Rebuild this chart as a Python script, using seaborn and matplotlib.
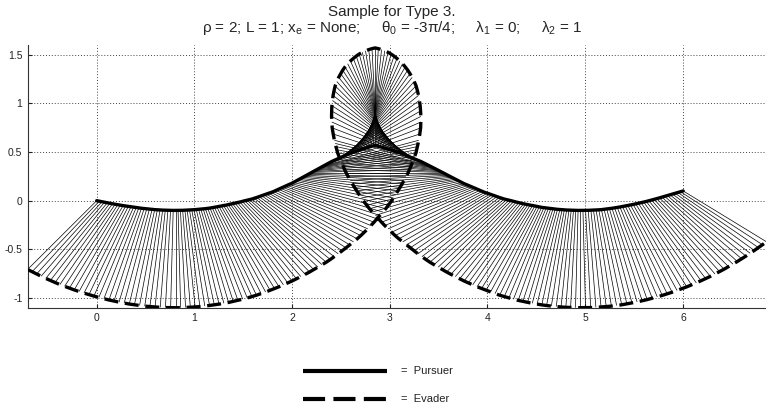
import numpy as np
import pandas as pd
import matplotlib
matplotlib.use("Agg")
import matplotlib.pyplot as plt
import seaborn as sns
from matplotlib.collections import LineCollection
from matplotlib.lines import Line2D

# Run parameters (shown in the title)
rho = 2
L = 1  # length of the pursuer-evader link

# Link angle (deg) at each stored step
link_angle_deg = [
    -135, -133.5, -132, -130.5, -129, -127.5, -126, -124.5, -123, -121.5, -120, -118.5, -117, -115.5,
    -114, -112.5, -111, -109.5, -108, -106.5, -105, -103.5, -102, -100.5, -99, -97.5, -96, -94.5,
    -93, -91.5, -90, -88.5, -87, -85.5, -84, -82.5, -81, -79.5, -78, -76.5, -75, -73.5, -72, -70.5,
    -69, -67.5, -66, -64.5, -63, -61.5, -60, -58.5, -57, -55.5, -54, -52.5, -51, -49.5, -48, -46.5,
    -45, -43.5, -42, -40.5, -39, -37.5, -36, -34.5, -33, -31.5, -30, -28.5, -27, -25.5, -24, -22.5,
    -21, -19.5, -18, -16.5, -15, -13.5, -12, -10.5, -9, -7.5, -6, -4.5, -3, -1.5, 0, 1.5, 3, 4.5,
    6, 7.5, 9, 10.5, 12, 13.5, 15,
    18, 21, 24, 27, 30, 33, 36, 39, 42, 45, 48, 51, 54, 57, 60, 63, 66, 69, 72, 75, 78, 81, 84, 87,
    90, 93, 96, 99, 102, 105, 108, 111, 114, 117, 120, 123, 126, 129, 132, 135, 138, 141, 144, 147,
    150, 153, 156, 159, 162,
    165, 166.5, 168, 169.5, 171, 172.5, 174, 175.5, 177, 178.5, 180, 181.5, 183, 184.5, 186, 187.5,
    189, 190.5, 192, 193.5, 195, 196.5, 198, 199.5, 201, 202.5, 204, 205.5, 207, 208.5, 210, 211.5,
    213, 214.5, 216, 217.5, 219, 220.5, 222, 223.5, 225, 226.5, 228, 229.5, 231, 232.5, 234, 235.5,
    237, 238.5, 240, 241.5, 243, 244.5, 246, 247.5, 249, 250.5, 252, 253.5, 255, 256.5, 258, 259.5,
    261, 262.5, 264, 265.5, 267, 268.5, 270, 271.5, 273, 274.5, 276, 277.5, 279, 280.5, 282, 283.5,
    285, 286.5, 288, 289.5, 291, 292.5, 294, 295.5, 297, 298.5, 300, 301.5, 303, 304.5, 306, 307.5,
    309, 310.5, 312, 313.5, 315, 316.5, 318, 319.5, 321, 322.5, 324, 325.5, 327, 328.5,
]

# Pursuer position at each step
pursuer_x = [
    0.000, 0.027, 0.054, 0.081, 0.108, 0.135, 0.162, 0.189, 0.216, 0.243, 0.270, 0.297, 0.324, 0.351,
    0.378, 0.405, 0.432, 0.459, 0.486, 0.513, 0.540, 0.567, 0.594, 0.621, 0.648, 0.675, 0.702, 0.729,
    0.756, 0.783, 0.810, 0.833, 0.857, 0.880, 0.903, 0.926, 0.950, 0.973, 0.996, 1.019, 1.043, 1.066, 1.089, 1.112,
    1.136, 1.159, 1.182, 1.205, 1.229, 1.252, 1.275, 1.298, 1.322, 1.345, 1.368, 1.391, 1.416, 1.440, 1.465, 1.490,
    1.515, 1.539, 1.564, 1.589, 1.614, 1.638, 1.663, 1.688, 1.713, 1.737, 1.762, 1.787, 1.812, 1.836, 1.861, 1.883,
    1.905, 1.926, 1.948, 1.970, 1.992, 2.013, 2.035, 2.054, 2.073, 2.091, 2.110, 2.129, 2.148, 2.166, 2.185, 2.201, 2.217, 2.232,
    2.248, 2.264, 2.280, 2.292, 2.305, 2.318, 2.331,
    2.356, 2.382, 2.404, 2.427, 2.449, 2.472, 2.494, 2.517, 2.539, 2.562, 2.581, 2.600, 2.619, 2.639, 2.658, 2.677, 2.696, 2.715, 2.734, 2.754, 2.773, 2.792, 2.811, 2.830,
    2.850, 2.870, 2.889, 2.908, 2.927, 2.946, 2.966, 2.985, 3.004, 3.023, 3.042, 3.063, 3.085, 3.106, 3.127, 3.148, 3.173, 3.197, 3.222, 3.246,
    3.271, 3.295, 3.320, 3.344, 3.372,
    3.399, 3.413, 3.427, 3.441, 3.454, 3.471, 3.488, 3.505, 3.521, 3.538, 3.555, 3.575, 3.594, 3.614, 3.634, 3.654,
    3.673, 3.693, 3.713, 3.736, 3.758, 3.781, 3.804, 3.827, 3.849, 3.872, 3.895, 3.921, 3.946, 3.972, 3.998, 4.023,
    4.047, 4.072, 4.097, 4.122, 4.146, 4.171, 4.196, 4.221, 4.245, 4.270, 4.295, 4.320, 4.344, 4.369, 4.392, 4.415,
    4.438, 4.462, 4.485, 4.508, 4.531, 4.555, 4.578, 4.601, 4.624, 4.648, 4.671, 4.694, 4.717, 4.741, 4.764, 4.787,
    4.810, 4.834, 4.857, 4.880, 4.903, 4.927, 4.950, 4.977, 5.004, 5.031, 5.058, 5.085, 5.112, 5.139, 5.166, 5.193,
    5.220, 5.247, 5.274, 5.301, 5.328, 5.355, 5.382, 5.409, 5.436, 5.463, 5.490, 5.517, 5.544, 5.571, 5.598, 5.625,
    5.652, 5.679, 5.706, 5.733, 5.760, 5.787, 5.814, 5.841, 5.868, 5.895, 5.922, 5.949, 5.976, 6.003,
]
pursuer_y = [
    0.000, -0.005, -0.011, -0.016, -0.022, -0.027, -0.032, -0.038, -0.042, -0.046, -0.051, -0.055, -0.059, -0.063,
    -0.067, -0.070, -0.074, -0.078, -0.081, -0.084, -0.087, -0.090, -0.092, -0.094, -0.096, -0.097, -0.098, -0.099,
    -0.100, -0.100, -0.100, -0.100, -0.099, -0.099, -0.098, -0.097, -0.096, -0.094, -0.093, -0.091, -0.089, -0.087, -0.084, -0.082,
    -0.079, -0.076, -0.072, -0.069, -0.064, -0.060, -0.055, -0.050, -0.046, -0.041, -0.036, -0.032, -0.026, -0.020, -0.014, -0.008,
    -0.001, 0.005, 0.011, 0.017, 0.025, 0.033, 0.042, 0.051, 0.060, 0.068, 0.077, 0.085, 0.095, 0.106, 0.117, 0.127,
    0.137, 0.147, 0.157, 0.167, 0.176, 0.187, 0.199, 0.210, 0.220, 0.230, 0.241, 0.251, 0.261, 0.271, 0.282, 0.291, 0.299, 0.308,
    0.316, 0.325, 0.334, 0.341, 0.348, 0.355, 0.362,
    0.376, 0.390, 0.402, 0.412, 0.422, 0.432, 0.442, 0.453, 0.463, 0.473, 0.481, 0.490, 0.496, 0.503, 0.509, 0.516, 0.522, 0.528, 0.535, 0.541, 0.547, 0.553, 0.558, 0.564,
    0.570, 0.564, 0.558, 0.553, 0.547, 0.541, 0.535, 0.528, 0.522, 0.516, 0.509, 0.503, 0.496, 0.490, 0.481, 0.473, 0.463, 0.453, 0.442, 0.432,
    0.422, 0.412, 0.402, 0.390, 0.376,
    0.362, 0.355, 0.348, 0.341, 0.334, 0.325, 0.316, 0.308, 0.299, 0.291, 0.282, 0.271, 0.261, 0.251, 0.241, 0.230,
    0.220, 0.210, 0.199, 0.187, 0.176, 0.167, 0.157, 0.147, 0.137, 0.127, 0.117, 0.106, 0.095, 0.085, 0.077, 0.068,
    0.060, 0.051, 0.042, 0.033, 0.025, 0.017, 0.011, 0.005, -0.001, -0.008, -0.014, -0.020, -0.026, -0.032, -0.036, -0.041,
    -0.046, -0.050, -0.055, -0.060, -0.064, -0.069, -0.072, -0.076, -0.079, -0.082, -0.084, -0.087, -0.089, -0.091, -0.093, -0.094,
    -0.096, -0.097, -0.098, -0.099, -0.099, -0.100, -0.100, -0.100, -0.100, -0.099, -0.098, -0.097, -0.096, -0.094, -0.092, -0.088,
    -0.085, -0.082, -0.078, -0.074, -0.069, -0.065, -0.060, -0.055, -0.050, -0.044, -0.039, -0.033, -0.027, -0.021, -0.014, -0.008,
    -0.001, 0.007, 0.014, 0.021, 0.029, 0.036, 0.044, 0.052, 0.060, 0.068, 0.076, 0.084, 0.092, 0.100,
]

x_ticks = [0, 1, 2, 3, 4, 5, 6]
y_ticks = [-1, -0.5, 0, 0.5, 1, 1.5]
y_tick_labels = ["-1", "-0.5", "0", "0.5", "1", "1.5"]

sns.set_style("white")
plt.rcParams["font.family"] = ["Liberation Sans", "DejaVu Sans"]
plt.rcParams["mathtext.fontset"] = "custom"
plt.rcParams["mathtext.rm"] = "Liberation Sans"
plt.rcParams["mathtext.it"] = "Liberation Sans:italic"

ang = np.deg2rad(np.array(link_angle_deg, dtype=float))
df = pd.DataFrame({"px": pursuer_x, "py": pursuer_y})
df["ex"] = df["px"] + L * np.cos(ang)
df["ey"] = df["py"] + L * np.sin(ang)

W, H = 766, 409
fig = plt.figure(figsize=(W / 100, H / 100), dpi=100)
ax = fig.add_axes([28 / W, (H - 307.7) / H, 752.6 / W, 262.7 / H])
ax.set_xlim(-0.703, 7.0)
ax.set_ylim(-1.1, 1.6)

# pursuer-to-evader links
segs = np.stack([df[["px", "py"]].to_numpy(), df[["ex", "ey"]].to_numpy()], axis=1)
ax.add_collection(LineCollection(segs, colors="black", linewidths=0.5, zorder=2))

sns.lineplot(data=df, x="px", y="py", sort=False, estimator=None, color="black",
             linewidth=2.4, ax=ax, zorder=4)
sns.lineplot(data=df, x="ex", y="ey", sort=False, estimator=None, color="black",
             linewidth=2.4, ax=ax, zorder=4)
ax.lines[-1].set_linestyle((0, (4.2, 2.0)))
ax.lines[-1].set_dash_capstyle("butt")

ax.set_xlabel("")
ax.set_ylabel("")
ax.set_xticks(x_ticks)
ax.set_xticklabels([str(t) for t in x_ticks])
ax.set_yticks(y_ticks)
ax.set_yticklabels(y_tick_labels)
ax.tick_params(direction="in", length=3, width=0.8, labelsize=7.5, pad=4,
               colors="#222222", left=True, bottom=True)
ax.grid(True, linestyle=(0, (1, 2)), color="#444444", linewidth=0.7)
ax.set_axisbelow(True)
for side in ("top", "right"):
    ax.spines[side].set_visible(False)
for side in ("left", "bottom"):
    ax.spines[side].set_color("#333333")
    ax.spines[side].set_linewidth(0.8)

# two-line title
fig.text(392 / W, 1 - 12 / H, "Sample for Type 3.", ha="center", va="center", fontsize=11)
fig.text(392 / W, 1 - 28 / H,
         "ρ = 2; L = 1; x$_\\mathrm{e}$ = None;     θ$_0$ = -3π/4;     λ$_1$ = 0;     λ$_2$ = 1",
         ha="center", va="center", fontsize=11)

# key below the axes
fig.add_artist(Line2D([303 / W, 387 / W], [1 - 371 / H, 1 - 371 / H], transform=fig.transFigure,
                      color="black", linewidth=3.0, solid_capstyle="butt"))
fig.add_artist(Line2D([303 / W, 387 / W], [1 - 399 / H, 1 - 399 / H], transform=fig.transFigure,
                      color="black", linewidth=3.0, linestyle=(0, (5.3, 2.0)), dash_capstyle="butt"))
fig.text(401 / W, 1 - 371 / H, "=  Pursuer", ha="left", va="center", fontsize=8, color="#222222")
fig.text(401 / W, 1 - 399 / H, "=  Evader", ha="left", va="center", fontsize=8, color="#222222")

fig.savefig("out.png", dpi=100)
